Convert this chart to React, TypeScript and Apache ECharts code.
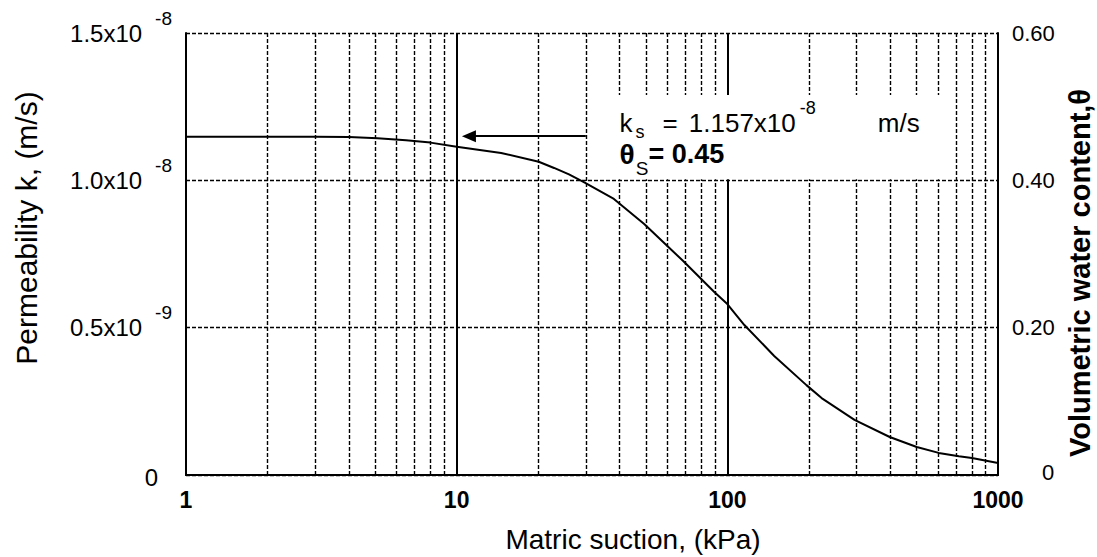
import React, { useEffect, useRef } from 'react';
import * as echarts from 'echarts';

const FONT = '"Liberation Sans", Arial, Helvetica, sans-serif';

// Matric suction (kPa) and permeability k (in units of 1e-8 m/s)
const suction = [1, 2, 3, 4, 5.1, 6.5, 8, 10, 14.6, 20.1, 22.9, 26, 29.5, 38.1, 49.3, 68.7, 89.5, 100, 115.6, 149, 196, 223, 295, 398, 501, 604, 717, 801, 1000];
const permeability = [1.148, 1.148, 1.148, 1.147, 1.143, 1.136, 1.128, 1.114, 1.093, 1.063, 1.042, 1.02, 0.994, 0.937, 0.852, 0.726, 0.621, 0.58, 0.509, 0.404, 0.305, 0.261, 0.187, 0.129, 0.095, 0.075, 0.064, 0.058, 0.041];

// dashed minor grid lines of the log axis
const minorGridSuction = [2, 3, 4, 5, 6, 7, 8, 9, 20, 30, 40, 50, 60, 70, 80, 90, 200, 300, 400, 500, 600, 700, 800, 900];

// left axis ticks
const kTickValues = [0, 0.5, 1.0, 1.5];
const kTickMantissa = ['0', '0.5x10', '1.0x10', '1.5x10'];
const kTickExponent = ['', '-9', '-8', '-8'];

// right axis ticks
const thetaTickValues = [0, 0.2, 0.4, 0.6];
const thetaTickLabels = ['0', '0.20', '0.40', '0.60'];

// annotation (data coordinates)
const arrowLevel = 1.15;
const arrowStart = 30;
const arrowEnd = 11.1;
const boxFrom = [32, 1.29];
const boxTo = [680, 1.004];
const annotLine1 = [40, 1.195];
const annotLine2 = [40, 1.089];

const findIdx = (arr: number[], v: number) => arr.findIndex((t) => Math.abs(t - v) < 1e-9);

export default function App() {
  const ref = useRef<HTMLDivElement>(null);

  useEffect(() => {
    if (!ref.current) return;
    const chart = echarts.init(ref.current, undefined, { renderer: 'svg' });

    const dash = { color: '#000', width: 1.4, type: [4, 2] };

    const option: any = {
      animation: false,
      backgroundColor: '#fff',
      grid: { left: 186, right: 99, top: 33, bottom: 82, outerBoundsMode: 'none' },
      xAxis: [
        {
          type: 'log',
          logBase: 10,
          min: 1,
          max: 1000,
          position: 'bottom',
          name: 'Matric suction, (kPa)',
          nameLocation: 'middle',
          nameGap: 50,
          nameTextStyle: { fontSize: 28, color: '#000', fontFamily: FONT, padding: [0, 0, 0, 82] },
          axisLine: { show: true, lineStyle: { color: '#000', width: 2 } },
          axisTick: { show: false },
          axisLabel: {
            fontSize: 23,
            fontWeight: 'bold',
            color: '#000',
            fontFamily: FONT,
            margin: 13,
            formatter: (v: number) => String(Math.round(v)),
          },
          splitLine: { show: true, lineStyle: { color: '#000', width: 2 } },
        },
        {
          type: 'log',
          logBase: 10,
          min: 1,
          max: 1000,
          position: 'top',
          axisLine: { show: true, lineStyle: { color: '#000', width: 2 } },
          axisTick: { show: false },
          axisLabel: { show: false },
          splitLine: { show: false },
        },
      ],
      yAxis: [
        {
          type: 'value',
          min: 0,
          max: 1.5,
          interval: 0.5,
          position: 'left',
          name: 'Permeability k, (m/s)',
          nameLocation: 'middle',
          nameGap: 145,
          nameTextStyle: { fontSize: 30, color: '#000', fontFamily: FONT, padding: [0, 0, 0, 52] },
          axisLine: { show: true, lineStyle: { color: '#000', width: 2 } },
          axisTick: { show: false },
          axisLabel: {
            margin: 14,
            formatter: (v: number) => {
              const i = findIdx(kTickValues, v);
              if (i < 0) return '';
              if (!kTickExponent[i]) return `{z|${kTickMantissa[i]}}`;
              return `{b|${kTickMantissa[i]}}{sup|${kTickExponent[i]}}`;
            },
            rich: {
              b: { fontSize: 24, lineHeight: 24, color: '#000', fontFamily: FONT, verticalAlign: 'middle' },
              sup: { fontSize: 19, lineHeight: 19, color: '#000', fontFamily: FONT, verticalAlign: 'middle', padding: [0, 0, 30, 13] },
              z: { fontSize: 24, lineHeight: 24, color: '#000', fontFamily: FONT, padding: [4, 14, 0, 0] },
            },
          },
          splitLine: { show: true, lineStyle: dash },
        },
        {
          type: 'value',
          min: 0,
          max: 0.6,
          interval: 0.2,
          position: 'right',
          name: 'Volumetric water content,θ',
          nameLocation: 'middle',
          nameGap: 64,
          nameTextStyle: { fontSize: 29, fontWeight: 'bold', color: '#000', fontFamily: FONT, padding: [0, 38, 0, 0] },
          axisLine: { show: true, lineStyle: { color: '#000', width: 2 } },
          axisTick: { show: false },
          axisLabel: {
            margin: 14,
            fontSize: 22,
            color: '#000',
            fontFamily: FONT,
            formatter: (v: number) => {
              const i = findIdx(thetaTickValues, v);
              if (i < 0) return '';
              return i === 0 ? `{z|${thetaTickLabels[i]}}` : thetaTickLabels[i];
            },
            rich: {
              z: { fontSize: 22, color: '#000', fontFamily: FONT, padding: [0, 0, 6, 30] },
            },
          },
          splitLine: { show: false },
        },
      ],
      series: [
        {
          type: 'line',
          name: 'k',
          xAxisIndex: 0,
          yAxisIndex: 0,
          data: suction.map((s, i) => [s, permeability[i]]),
          showSymbol: false,
          symbol: 'none',
          lineStyle: { color: '#000', width: 2 },
          z: 4,
          silent: true,
          markLine: {
            silent: true,
            symbol: 'none',
            label: { show: false },
            emphasis: { disabled: true },
            lineStyle: dash,
            data: [
              ...minorGridSuction.map((v) => ({ xAxis: v })),
              [
                {
                  coord: [arrowEnd, arrowLevel],
                  symbol: 'triangle',
                  symbolSize: [12, 14],
                  lineStyle: { color: '#000', width: 2, type: 'solid' },
                },
                { coord: [arrowStart, arrowLevel], symbol: 'none' },
              ],
            ],
          },
        },
      ],
    };

    chart.setOption(option);

    const p = (pt: number[]) => chart.convertToPixel({ xAxisIndex: 0, yAxisIndex: 0 }, pt) as number[];
    const b1 = p(boxFrom);
    const b2 = p(boxTo);
    const a1 = p(annotLine1);
    const a2 = p(annotLine2);

    chart.setOption({
      graphic: [
        {
          type: 'rect',
          silent: true,
          z: 100,
          shape: { x: b1[0], y: b1[1], width: b2[0] - b1[0], height: b2[1] - b1[1] },
          style: { fill: '#fff' },
        },
        {
          type: 'text',
          silent: true,
          z: 101,
          x: a1[0],
          y: a1[1],
          style: {
            text: '{t|k}{sub|s}{eq|=}{n|1.157x10}{sup|-8}{u|m/s}',
            align: 'left',
            verticalAlign: 'middle',
            rich: {
              t: { fontSize: 26, fontFamily: FONT, fill: '#000' },
              sub: { fontSize: 18, fontFamily: FONT, fill: '#000', padding: [18, 0, 0, 3] },
              eq: { fontSize: 26, fontFamily: FONT, fill: '#000', padding: [0, 0, 0, 18] },
              n: { fontSize: 26, fontFamily: FONT, fill: '#000', padding: [0, 0, 0, 11] },
              sup: { fontSize: 18, fontFamily: FONT, fill: '#000', padding: [0, 0, 30, 4] },
              u: { fontSize: 26, fontFamily: FONT, fill: '#000', padding: [0, 0, 0, 62] },
            },
          },
        },
        {
          type: 'text',
          silent: true,
          z: 101,
          x: a2[0],
          y: a2[1],
          style: {
            text: '{th|θ}{sub|S}{v|= 0.45}',
            align: 'left',
            verticalAlign: 'middle',
            rich: {
              th: { fontSize: 28, fontWeight: 'bold', fontFamily: FONT, fill: '#000' },
              sub: { fontSize: 19, fontFamily: FONT, fill: '#000', padding: [28, 0, 0, 1] },
              v: { fontSize: 27, fontWeight: 'bold', fontFamily: FONT, fill: '#000' },
            },
          },
        },
      ],
    });

    return () => chart.dispose();
  }, []);

  return (
    <div
      ref={ref}
      style={{ position: 'fixed', left: 0, top: 0, width: 1097, height: 557, background: '#fff' }}
    />
  );
}
